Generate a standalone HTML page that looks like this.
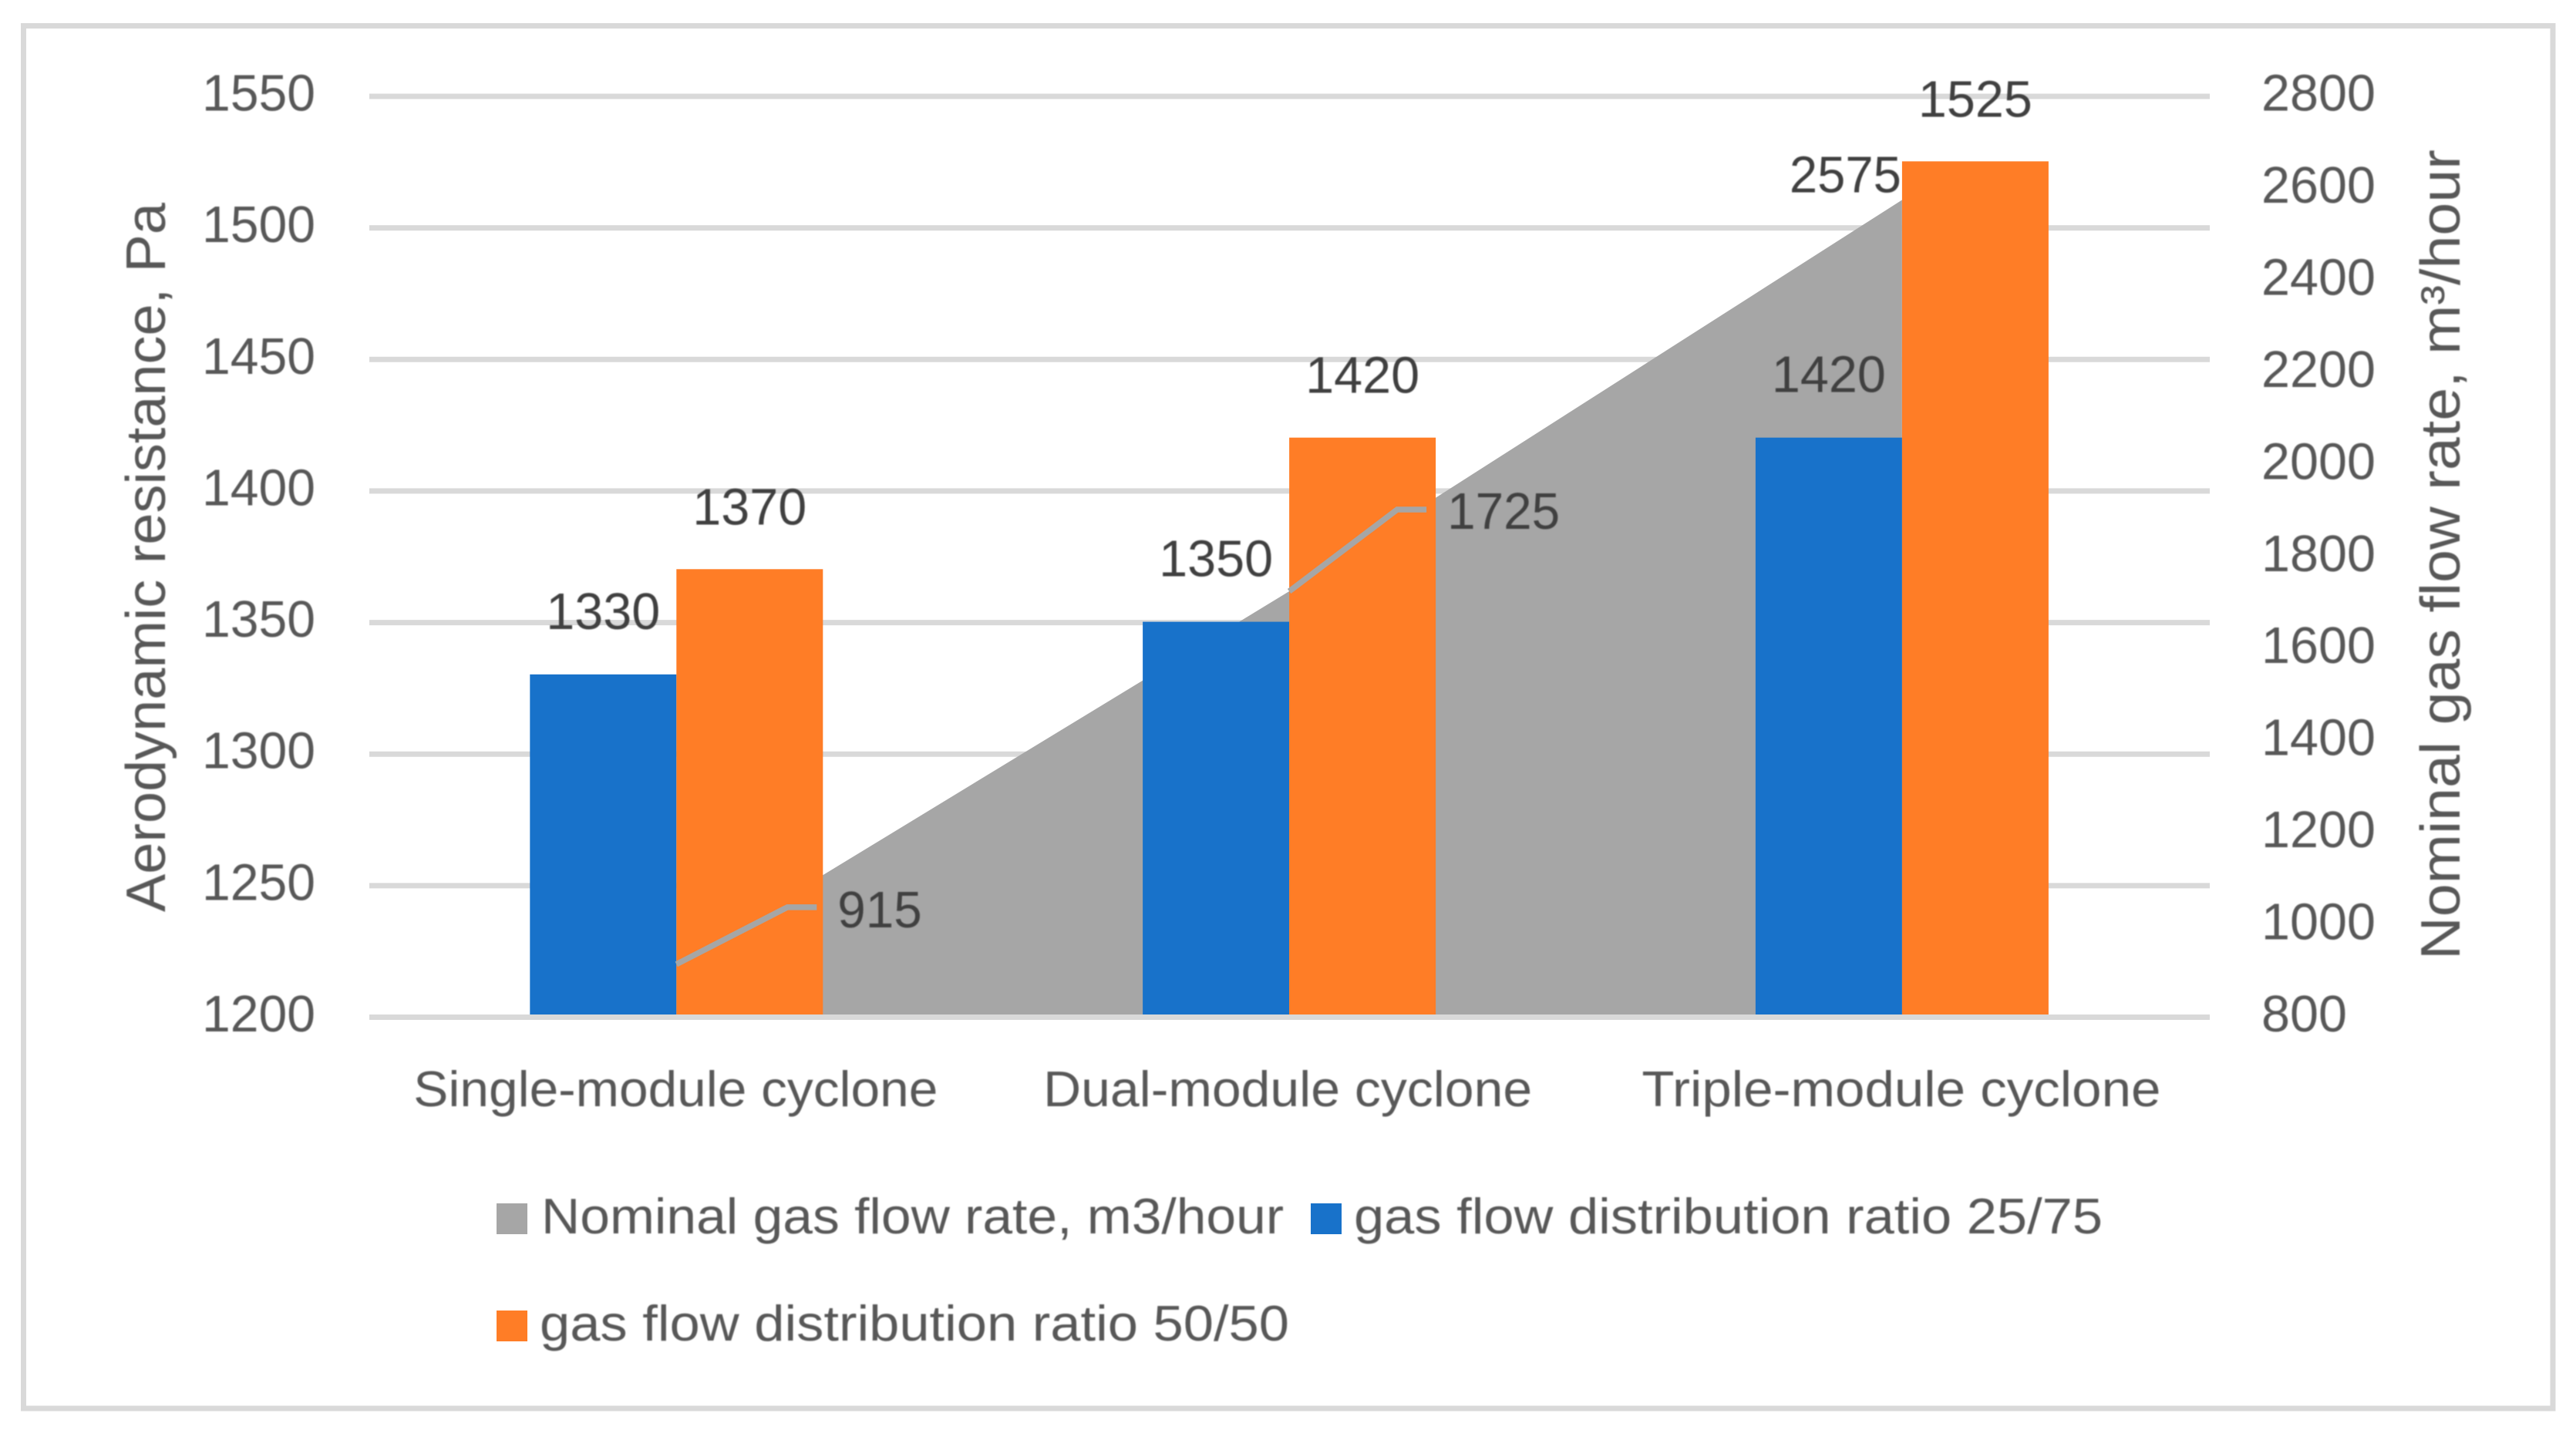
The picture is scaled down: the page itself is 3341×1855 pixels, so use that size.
<!DOCTYPE html>
<html lang="en">
<head>
<meta charset="utf-8">
<title>Aerodynamic resistance and nominal gas flow rate by cyclone type</title>
<style>
html,body{margin:0;padding:0;background:#fff;width:3341px;height:1855px;overflow:hidden}
svg{display:block}
text{font-family:"Liberation Sans",Arial,sans-serif;fill:#595959}
.lbl{fill:#404040}
</style>
</head>
<body>
<svg id="chart" xmlns="http://www.w3.org/2000/svg" width="3341" height="1855" viewBox="0 0 3341 1855">
  <defs><filter id="soft" x="-5%" y="-5%" width="110%" height="110%"><feGaussianBlur stdDeviation="0.8"/></filter></defs>
  <rect x="0" y="0" width="3341" height="1855" fill="#ffffff"/>
  <rect x="30.5" y="33.5" width="3280.5" height="1793.5" fill="none" stroke="#D9D9D9" stroke-width="7"/>
  <g id="grid"></g>
  <g id="area"></g>
  <g id="bars"></g>
  <g id="axisline"></g>
  <g id="leaders"></g>
  <g id="labels" filter="url(#soft)">
    <text transform="translate(214,1183) rotate(-90)" font-size="72" textLength="920" lengthAdjust="spacingAndGlyphs">Aerodynamic resistance, Pa</text>
    <text transform="translate(3190,1245) rotate(-90)" font-size="72" textLength="1051" lengthAdjust="spacingAndGlyphs">Nominal gas flow rate, m³/hour</text>
  </g>
  <g id="legend">
    <g>
      <rect x="644" y="1561" width="40" height="40" fill="#A6A6A6"/>
      <text x="702" y="1600" font-size="65" textLength="963" lengthAdjust="spacingAndGlyphs" filter="url(#soft)">Nominal gas flow rate, m3/hour</text>
    </g>
    <g>
      <rect x="1700" y="1561" width="40" height="40" fill="#1872CA"/>
      <text x="1756" y="1600" font-size="65" textLength="971" lengthAdjust="spacingAndGlyphs" filter="url(#soft)">gas flow distribution ratio 25/75</text>
    </g>
    <g>
      <rect x="644" y="1700" width="40" height="40" fill="#FF7D26"/>
      <text x="700" y="1739" font-size="65" textLength="972" lengthAdjust="spacingAndGlyphs" filter="url(#soft)">gas flow distribution ratio 50/50</text>
    </g>
  </g>
</svg>
<script>
const categories = ["Single-module cyclone", "Dual-module cyclone", "Triple-module cyclone"];
const flowRate = [915, 1725, 2575];
const ratio2575 = [1330, 1350, 1420];
const ratio5050 = [1370, 1420, 1525];
const leftTicks = [1200, 1250, 1300, 1350, 1400, 1450, 1500, 1550];
const rightTicks = [800, 1000, 1200, 1400, 1600, 1800, 2000, 2200, 2400, 2600, 2800];

const NS = "http://www.w3.org/2000/svg";
const plot = { left: 479, right: 2866, top: 125, bottom: 1319.5, x0: 479.9, band: 794.8, barW: 190, barLift: 1 };
const leftDomain = [leftTicks[0], leftTicks[leftTicks.length - 1]];
const rightDomain = [rightTicks[0], rightTicks[rightTicks.length - 1]];

function yLeft(v) {
  return plot.bottom - (v - leftDomain[0]) / (leftDomain[1] - leftDomain[0]) * (plot.bottom - plot.top);
}
function yRight(v) {
  return plot.bottom - (v - rightDomain[0]) / (rightDomain[1] - rightDomain[0]) * (plot.bottom - plot.top);
}
function xCat(i) {
  return plot.x0 + plot.band * (i + 0.5);
}
function mk(tag, attrs, parent, txt) {
  const el = document.createElementNS(NS, tag);
  for (const k in attrs) el.setAttribute(k, attrs[k]);
  if (txt !== undefined) el.textContent = txt;
  parent.appendChild(el);
  return el;
}
const gridG = document.getElementById("grid");
const areaG = document.getElementById("area");
const barsG = document.getElementById("bars");
const axisG = document.getElementById("axisline");
const leadG = document.getElementById("leaders");
const labG = document.getElementById("labels");

/* gridlines + left tick labels */
leftTicks.forEach(function (t, i) {
  if (i > 0) {
    const g = mk("line", { x1: plot.left, x2: plot.right, y1: yLeft(t), y2: yLeft(t), stroke: "#D9D9D9", "stroke-width": 7 }, gridG);
    
    
  }
  const l = mk("text", { x: 409, y: yLeft(t) + 18.5, "text-anchor": "end", "font-size": 67, textLength: 147, lengthAdjust: "spacingAndGlyphs" }, labG, String(t));
  
  
});

/* right tick labels */
rightTicks.forEach(function (t) {
  const s = String(t);
  const l = mk("text", { x: 2933, y: yRight(t) + 18.5, "font-size": 67, textLength: s.length * 37, lengthAdjust: "spacingAndGlyphs" }, labG, s);
  
  
});

/* area series */
let d = "M" + xCat(0) + " " + plot.bottom;
flowRate.forEach(function (v, i) { d += " L" + xCat(i) + " " + yRight(v); });
d += " L" + xCat(flowRate.length - 1) + " " + plot.bottom + " Z";
const areaPath = mk("path", { d: d, fill: "#A6A6A6" }, areaG);



/* bars */
categories.forEach(function (c, i) {
  const ya = yLeft(ratio2575[i]) - plot.barLift;
  const yb = yLeft(ratio5050[i]) - plot.barLift;
  const a = mk("rect", { x: xCat(i) - plot.barW, y: ya, width: plot.barW, height: plot.bottom - ya, fill: "#1872CA" }, barsG);
  
  
  const b = mk("rect", { x: xCat(i), y: yb, width: plot.barW, height: plot.bottom - yb, fill: "#FF7D26" }, barsG);
  
  

  const la = mk("text", { x: xCat(i) - plot.barW / 2, y: ya - 59, "text-anchor": "middle", "font-size": 67, textLength: 148, lengthAdjust: "spacingAndGlyphs", class: "lbl" }, labG, String(ratio2575[i]));
  
  
  const lb = mk("text", { x: xCat(i) + plot.barW / 2, y: yb - 58, "text-anchor": "middle", "font-size": 67, textLength: 148, lengthAdjust: "spacingAndGlyphs", class: "lbl" }, labG, String(ratio5050[i]));
  
  

  const cl = mk("text", { x: xCat(i) + (i === 1 ? -2 : -1), y: 1435, "text-anchor": "middle", "font-size": 65, textLength: i === 1 ? 634 : (i === 0 ? 680 : 673), lengthAdjust: "spacingAndGlyphs" }, labG, c);
  
  
});

/* baseline axis drawn above the bars */
const axisLine = mk("line", { x1: plot.left, x2: plot.right, y1: plot.bottom, y2: plot.bottom, stroke: "#D9D9D9", "stroke-width": 7 }, axisG);



/* area data labels with leader lines; offsets are relative to each area point */
function placeFlowLabel(i) {
  const px = xCat(i), py = yRight(flowRate[i]);
  const txt = String(flowRate[i]);
  if (i === 2) {
    const end = mk("text", { x: px - 1, y: py - 10, "text-anchor": "end", "font-size": 67, textLength: 145, lengthAdjust: "spacingAndGlyphs", class: "lbl" }, labG, txt);
    
    
    return;
  }
  const riseY = i === 0 ? -74 : -106;
  const elbowX = i === 0 ? 144 : 140;
  const endX = i === 0 ? 182 : 178;
  const labelX = i === 0 ? 209 : 205;
  const baseY = i === 0 ? -48 : -81;
  const ln = mk("polyline", { points: px + "," + py + " " + (px + elbowX) + "," + (py + riseY) + " " + (px + endX) + "," + (py + riseY), fill: "none", stroke: "#A6A6A6", "stroke-width": 7.5 }, leadG);
  
  
  const t = mk("text", { x: px + labelX, y: py + baseY, "font-size": 67, textLength: txt.length * 36.5, lengthAdjust: "spacingAndGlyphs", class: "lbl" }, labG, txt);
  
  
}
flowRate.forEach(function (v, i) { placeFlowLabel(i); });
</script>
</body>
</html>
